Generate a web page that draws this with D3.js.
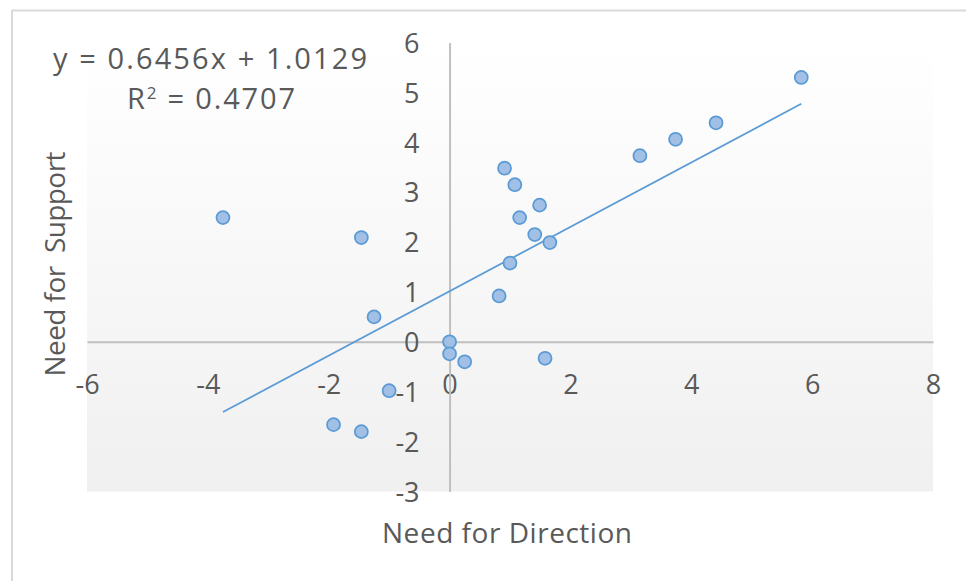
<!DOCTYPE html>
<html>
<head>
<meta charset="utf-8">
<script src="https://cdn.jsdelivr.net/npm/d3@7/dist/d3.min.js"></script>
<style>
  html, body { margin: 0; padding: 0; background: #fff; }
  svg { display: block; }
  text { font-family: "Open Sans", "Noto Sans", sans-serif; fill: #595959; }
</style>
</head>
<body>
<svg id="chart" width="966" height="581"></svg>
<script>
// ---- data ----
const needForDirection = [5.82, 4.41, 3.74, 3.15, 0.91, 1.08, 1.49, 1.16, 1.41, 1.66, 1.00, 0.82,
                          -3.75, -1.46, -1.25, 0.00, 0.00, 0.25, -1.00, -1.92, -1.46, 1.58];
const needForSupport   = [5.30, 4.39, 4.06, 3.73, 3.48, 3.15, 2.74, 2.49, 2.15, 1.99, 1.58, 0.92,
                          2.49, 2.09, 0.50, 0.00, -0.24, -0.40, -0.98, -1.66, -1.80, -0.33];
const xTicks = [-6, -4, -2, 0, 2, 4, 6, 8];
const yTicks = [-3, -2, -1, 0, 1, 2, 3, 4, 5, 6];
const trendSlope = 0.6456;
const trendIntercept = 1.0129;
const equationLabel = "y = 0.6456x + 1.0129";
const rSquaredValue = "0.4707";
const xTitle = "Need for Direction";
const yTitle = "Need for\u00a0 Support";

// ---- layout ----
const svg = d3.select("#chart");
const plot = { left: 87, right: 933, top: 42.5, bottom: 491.5 };

const x = d3.scaleLinear().domain([-6, 8]).range([plot.left, plot.right]);
const y = d3.scaleLinear().domain([-3, 6]).range([plot.bottom, plot.top]);

// chart border (top and left visible)
svg.append("line").attr("x1", 12).attr("x2", 966).attr("y1", 10.5).attr("y2", 10.5)
  .attr("stroke", "#d9d9d9").attr("stroke-width", 2);
svg.append("line").attr("x1", 12).attr("x2", 12).attr("y1", 10).attr("y2", 581)
  .attr("stroke", "#d9d9d9").attr("stroke-width", 2);

// plot area gradient
const defs = svg.append("defs");
const grad = defs.append("linearGradient").attr("id", "bg").attr("x1", 0).attr("y1", 0).attr("x2", 0).attr("y2", 1);
grad.append("stop").attr("offset", "0%").attr("stop-color", "#ffffff");
grad.append("stop").attr("offset", "100%").attr("stop-color", "#f0f0f0");
svg.append("rect").attr("x", plot.left).attr("y", plot.top)
  .attr("width", plot.right - plot.left).attr("height", plot.bottom - plot.top)
  .attr("fill", "url(#bg)");

const fmt = d => String(d);

// axes
const xAxis = svg.append("g").attr("transform", `translate(0,${y(0)})`)
  .call(d3.axisBottom(x).tickValues(xTicks).tickSize(0).tickFormat(fmt));
xAxis.select(".domain").attr("stroke", "#bfbfbf").attr("stroke-width", 2);
xAxis.selectAll("text").attr("y", 52).attr("dy", null)
  .style("font-size", "27px").attr("fill", "#595959");

const yAxis = svg.append("g").attr("transform", `translate(${x(0)},0)`)
  .call(d3.axisLeft(y).tickValues(yTicks).tickSize(0).tickPadding(30).tickFormat(fmt));
yAxis.select(".domain").attr("stroke", "#bfbfbf").attr("stroke-width", 2);
yAxis.selectAll("text").attr("dy", "0.36em")
  .style("font-size", "27px").attr("fill", "#595959");
svg.selectAll(".tick text").style("font-family", '"Open Sans", sans-serif');

// trendline
const xExt = d3.extent(needForDirection);
svg.append("line")
  .attr("x1", x(xExt[0])).attr("y1", y(trendSlope * xExt[0] + trendIntercept))
  .attr("x2", x(xExt[1])).attr("y2", y(trendSlope * xExt[1] + trendIntercept))
  .attr("stroke", "#5b9bd5").attr("stroke-width", 1.75);

// points
const pts = needForDirection.map((d, i) => ({ x: d, y: needForSupport[i] }));
svg.append("g").selectAll("circle").data(pts).join("circle")
  .attr("cx", d => x(d.x)).attr("cy", d => y(d.y)).attr("r", 6.5)
  .attr("fill", "#a2c0e6").attr("stroke", "#5b9bd5").attr("stroke-width", 1.75);

// equation label
svg.append("text").attr("x", 210).attr("y", 69).attr("text-anchor", "middle")
  .style("font-size", "29px").attr("textLength", 314).attr("lengthAdjust", "spacing")
  .text(equationLabel);
const r2 = svg.append("text").attr("x", 211).attr("y", 109).attr("text-anchor", "middle")
  .style("font-size", "29px").attr("textLength", 168).attr("lengthAdjust", "spacing");
r2.append("tspan").text("R");
r2.append("tspan").attr("dy", -10).style("font-size", "17px").text("2");
r2.append("tspan").attr("dy", 10).text(" = " + rSquaredValue);

// axis titles
svg.append("text").attr("x", 507).attr("y", 543).attr("text-anchor", "middle")
  .style("font-size", "28px").attr("textLength", 250).attr("lengthAdjust", "spacing")
  .text(xTitle);
svg.append("text").attr("transform", "translate(65,264) rotate(-90)")
  .attr("text-anchor", "middle").style("font-size", "28px")
  .attr("textLength", 225).attr("lengthAdjust", "spacing").text(yTitle);
</script>
</body>
</html>
